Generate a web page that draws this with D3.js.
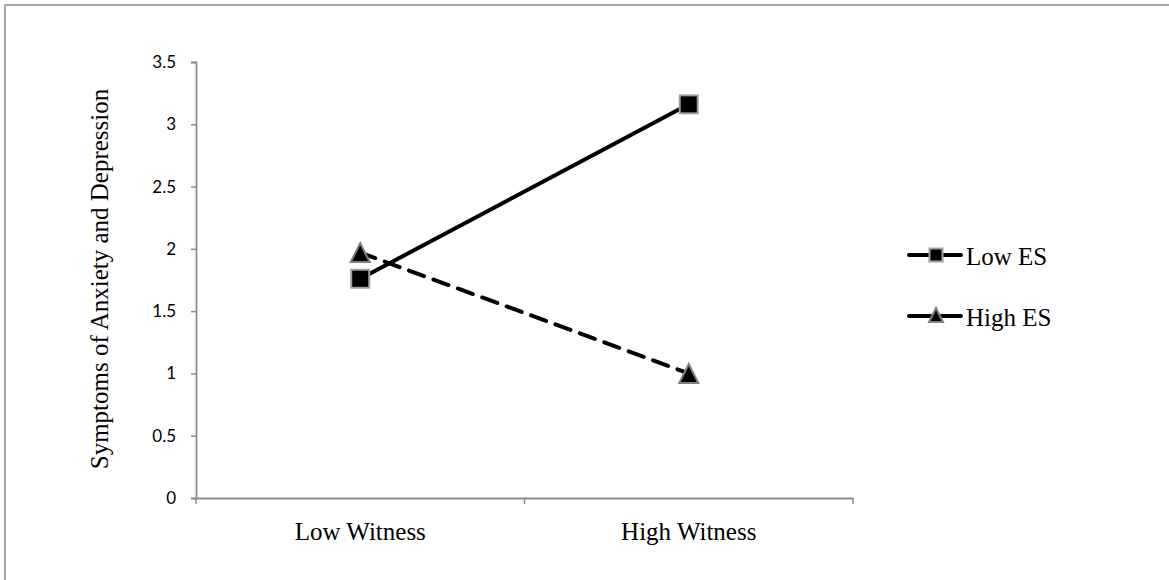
<!DOCTYPE html>
<html><head><meta charset="utf-8">
<script src="https://cdn.jsdelivr.net/npm/d3@7"></script>
<style>body{margin:0;background:#fff}svg{display:block}</style>
</head><body>
<svg id="chart" width="1169" height="580"></svg>
<script>
const categories = ["Low Witness", "High Witness"];
const seriesNames = ["Low ES", "High ES"];
const lowES = [1.76, 3.16];
const highES = [1.97, 1.00];
const yTicks = [0, 0.5, 1, 1.5, 2, 2.5, 3, 3.5];
const yTitle = "Symptoms of Anxiety and Depression";

const serif = "'Liberation Serif', 'Times New Roman', serif";
const svg = d3.select("#chart");
svg.append("rect").attr("x",5).attr("y",5).attr("width",1200).attr("height",600)
  .attr("fill","#fff").attr("stroke","#a6a6a6").attr("stroke-width",2);

const m = {left:196, right:853, top:62, bottom:498};
const x = d3.scaleBand().domain(categories).range([m.left, m.right]);
const y = d3.scaleLinear().domain([0,3.5]).range([m.bottom, m.top]);

const yAxis = svg.append("g").attr("transform",`translate(${m.left},0)`)
  .call(d3.axisLeft(y).tickValues(yTicks).tickSize(5).tickPadding(15).tickFormat(d=>d3.format("")(d)));
const xAxis = svg.append("g").attr("transform",`translate(0,${m.bottom})`)
  .call(d3.axisBottom(x).tickSize(0).tickPadding(0));
[yAxis,xAxis].forEach(g=>{
  g.selectAll(".domain").attr("stroke","#8c8c8c").attr("stroke-width",1.8);
  g.selectAll(".tick line").attr("stroke","#8c8c8c").attr("stroke-width",1.5);
});
yAxis.attr("font-size",null).attr("font-family",null);
yAxis.selectAll("text").attr("font-family","Lato, 'Open Sans', sans-serif").attr("font-size",17).attr("fill","#000");
xAxis.attr("font-size",null).attr("font-family",null);
xAxis.selectAll("text").attr("font-family",serif).attr("font-size",25).attr("fill","#000")
  .attr("dy",null).attr("y",42);
// category boundary ticks
const bounds = [m.left, m.left + x.bandwidth(), m.right];
svg.append("g").selectAll("line").data(bounds).join("line")
  .attr("x1",d=>d).attr("x2",d=>d).attr("y1",m.bottom).attr("y2",m.bottom+6)
  .attr("stroke","#8c8c8c").attr("stroke-width",1.5);

svg.append("text").attr("transform",`translate(108,${(m.top+m.bottom)/2 - 1}) rotate(-90)`)
  .attr("text-anchor","middle").attr("font-family",serif)
  .attr("font-size",25).attr("fill","#000").text(yTitle);

const cx = c => x(c) + x.bandwidth()/2;
const line = d3.line().x((d,i)=>cx(categories[i])).y(d=>y(d));

// High ES dashed (triangles)
svg.append("path").datum(highES).attr("d",line).attr("fill","none").attr("stroke","#000")
  .attr("stroke-width",4).attr("stroke-dasharray","16,10").attr("stroke-linecap","round");
// Low ES solid (squares)
svg.append("path").datum(lowES).attr("d",line).attr("fill","none").attr("stroke","#000")
  .attr("stroke-width",4).attr("stroke-linecap","round");

function square(g, px, py, s){
  g.append("rect").attr("x",px-s/2).attr("y",py-s/2).attr("width",s).attr("height",s)
    .attr("fill","#000").attr("stroke","#a0a0a0").attr("stroke-width",2);
}
function triangle(g, px, py, h){
  g.append("path").attr("d",`M${px},${py-h/2}L${px+h/2},${py+h/2}L${px-h/2},${py+h/2}Z`)
    .attr("fill","#000").attr("stroke","#808080").attr("stroke-width",2).attr("stroke-linejoin","miter");
}
const mk = svg.append("g");
highES.forEach((v,i)=>triangle(mk, cx(categories[i]), y(v), 19));
lowES.forEach((v,i)=>square(mk, cx(categories[i]), y(v), 18));

// Legend
const lg = svg.append("g");
const legendY = [255, 316];
seriesNames.forEach((name,i)=>{
  const ly = legendY[i];
  lg.append("line").attr("x1",909).attr("x2",961).attr("y1",ly).attr("y2",ly)
    .attr("stroke","#000").attr("stroke-width",4).attr("stroke-linecap","round");
  if(i===0) square(lg, 936, ly, 13); else triangle(lg, 936, ly-1, 14);
  lg.append("text").attr("x",966).attr("y",ly+10).attr("font-family",serif)
    .attr("font-size",25).attr("fill","#000").text(name);
});
</script>
</body></html>
